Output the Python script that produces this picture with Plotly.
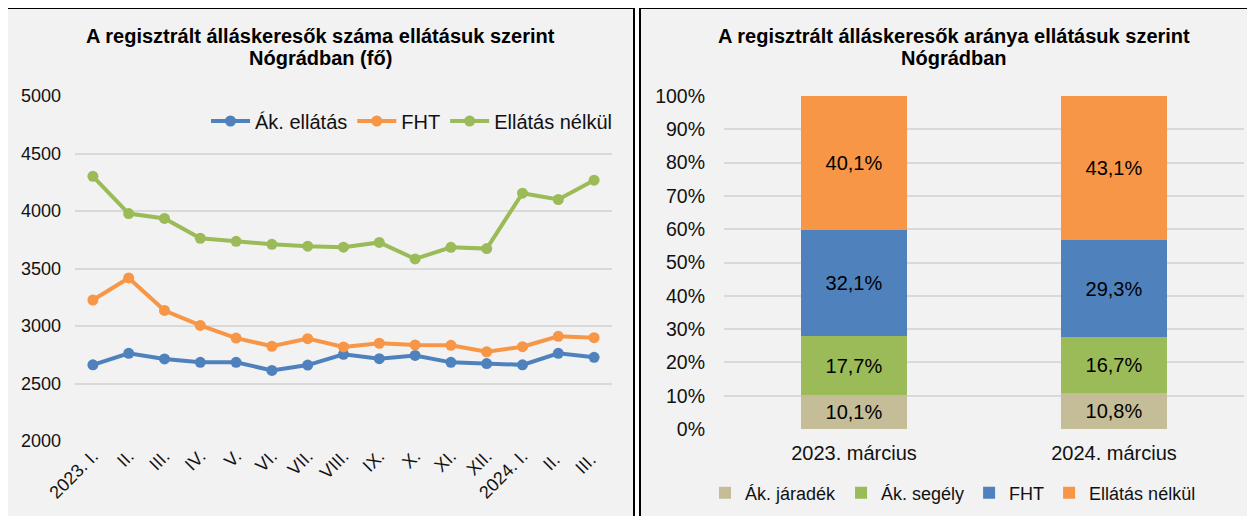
import plotly.graph_objects as go

W, H = 1255, 516
OFF = 8  # page body margin offset

months = ["2023. I.", "II.", "III.", "IV.", "V.", "VI.", "VII.", "VIII.", "IX.", "X.", "XI.", "XII.", "2024. I.", "II. ", "III. "]
ak_ellatas = [2662, 2762, 2714, 2684, 2684, 2614, 2660, 2754, 2716, 2744, 2684, 2673, 2662, 2762, 2728]
fht = [3226, 3418, 3135, 3005, 2895, 2824, 2890, 2818, 2850, 2835, 2832, 2776, 2820, 2910, 2898]
ellatas_nelkul = [4302, 3978, 3935, 3763, 3736, 3710, 3694, 3685, 3727, 3583, 3684, 3673, 4155, 4100, 4268]

periods = ["2023. március", "2024. március"]
bar_series = ["Ák. járadék", "Ák. segély", "FHT", "Ellátás nélkül"]
bar_values = [
    [10.1, 10.8],
    [17.7, 16.7],
    [32.1, 29.3],
    [40.1, 43.1],
]

line_names = ["Ák. ellátás", "FHT", "Ellátás nélkül"]
line_colors = ["#4F81BD", "#F79646", "#9BBB59"]
bar_colors = ["#C4BD97", "#9BBB59", "#4F81BD", "#F79646"]

FONT = "Liberation Sans, Arial, sans-serif"
TXT = "#111111"

def px_x(p):
    return (p - OFF) / W

def px_y(p):
    return 1 - (p - OFF) / H

fig = go.Figure()

for name, vals, col in zip(line_names, [ak_ellatas, fht, ellatas_nelkul], line_colors):
    fig.add_trace(go.Scatter(
        x=months, y=vals, name=name, mode="lines+markers",
        line=dict(color=col, width=4), marker=dict(color=col, size=11),
        xaxis="x", yaxis="y", legend="legend",
    ))

for name, vals, col in zip(bar_series, bar_values, bar_colors):
    fig.add_trace(go.Bar(
        x=periods, y=vals, name=name, marker=dict(color=col, line=dict(width=0)),
        text=[f"{v:.1f}%".replace(".", ",") for v in vals],
        textposition="inside", insidetextanchor="middle", textangle=0,
        textfont=dict(size=20, color="#000000", family=FONT),
        xaxis="x2", yaxis="y2", legend="legend2", width=0.41,
    ))

shapes = [
    dict(type="rect", xref="paper", yref="paper",
         x0=px_x(5), x1=px_x(634), y0=px_y(540), y1=px_y(8),
         fillcolor="#F2F2F2", line=dict(color="#000000", width=2), layer="below"),
    dict(type="rect", xref="paper", yref="paper",
         x0=px_x(640), x1=px_x(1280), y0=px_y(540), y1=px_y(8),
         fillcolor="#F2F2F2", line=dict(color="#000000", width=2), layer="below"),
]

def title_line(text, x, y):
    return dict(text=f"<b>{text}</b>", xref="paper", yref="paper", x=px_x(x), y=px_y(y),
                xanchor="center", yanchor="middle", showarrow=False,
                font=dict(size=20, color="#000000", family=FONT))

annotations = [
    title_line("A regisztrált álláskeresők száma ellátásuk szerint", 320, 36),
    title_line("Nógrádban (fő)", 320, 58),
    title_line("A regisztrált álláskeresők aránya ellátásuk szerint", 954, 36),
    title_line("Nógrádban", 954, 58),
]

fig.update_layout(
    width=W, height=H,
    margin=dict(l=0, r=0, t=0, b=0, pad=0, autoexpand=False),
    paper_bgcolor="#FFFFFF", plot_bgcolor="rgba(0,0,0,0)",
    font=dict(family=FONT, color=TXT, size=18),
    shapes=shapes, annotations=annotations,
    barmode="stack",
    xaxis=dict(domain=[px_x(75), px_x(612)], type="category", tickangle=-45,
               range=[-0.5, len(months) - 0.5],
               showgrid=False, zeroline=False, showline=False, ticks="",
               tickfont=dict(size=18, color=TXT), automargin=False),
    yaxis=dict(domain=[px_y(441), px_y(96)], range=[2000, 5000], dtick=500,
               showgrid=True, gridcolor="#D9D9D9", gridwidth=1.5, zeroline=False,
               showline=False, ticks="", tickfont=dict(size=18, color=TXT),
               ticklabelstandoff=13, automargin=False),
    xaxis2=dict(domain=[px_x(724), px_x(1244)], type="category", anchor="y2",
                showgrid=False, zeroline=False, showline=False, ticks="",
                tickfont=dict(size=20, color=TXT), ticklabelstandoff=10, automargin=False),
    yaxis2=dict(domain=[px_y(429), px_y(96)], range=[0, 100], dtick=10, ticksuffix="%",
                anchor="x2", showgrid=True, gridcolor="#D9D9D9", gridwidth=1.5, zeroline=False,
                showline=False, ticks="", tickfont=dict(size=19.5, color=TXT),
                ticklabelstandoff=18, automargin=False),
    legend=dict(orientation="h", x=px_x(617), y=px_y(121), xanchor="right", yanchor="middle",
                bgcolor="rgba(0,0,0,0)", font=dict(size=20, color=TXT), itemwidth=39,
                traceorder="normal"),
    legend2=dict(orientation="h", x=px_x(953), y=px_y(493), xanchor="center", yanchor="middle",
                 bgcolor="rgba(0,0,0,0)", font=dict(size=18, color=TXT), itemwidth=30,
                 traceorder="normal"),
)

fig.write_html("out.html")
